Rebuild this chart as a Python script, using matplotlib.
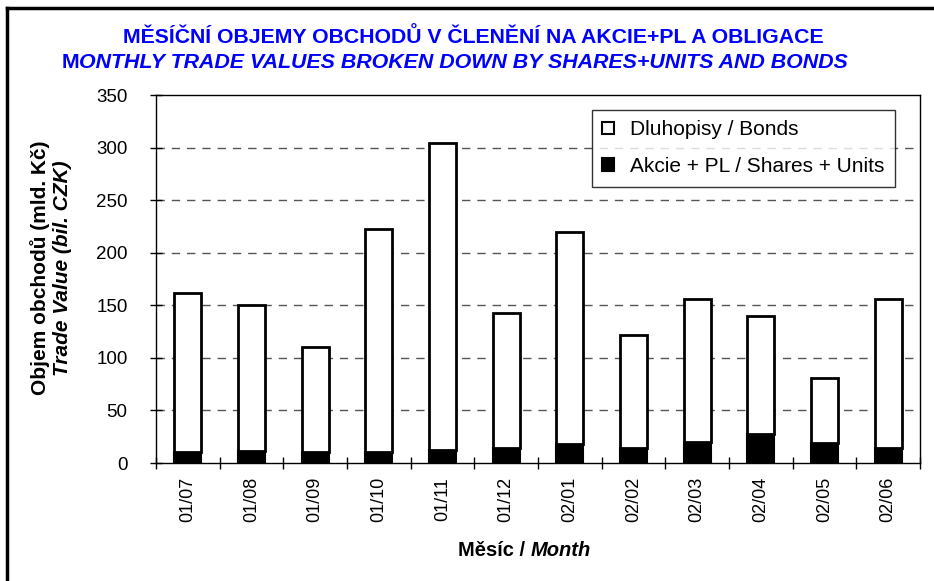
import matplotlib
matplotlib.use("Agg")
import matplotlib.pyplot as plt
import numpy as np
from matplotlib.patches import Patch
from matplotlib.lines import Line2D

months = ["01/07", "01/08", "01/09", "01/10", "01/11", "01/12",
          "02/01", "02/02", "02/03", "02/04", "02/05", "02/06"]
totals = [162, 150, 110, 223, 304, 143, 220, 122, 156, 140, 81, 156]
shares = [10.6, 11.2, 10.2, 10.6, 12.2, 13.8, 17.6, 13.8, 19.5, 27.9, 19.2, 13.8]
bonds = [t - s for t, s in zip(totals, shares)]
yticks = [0, 50, 100, 150, 200, 250, 300, 350]

plt.rcParams['font.family'] = ['Liberation Sans', 'DejaVu Sans']

fig = plt.figure(figsize=(9.34, 5.81), dpi=100)
ax = fig.add_axes([156/934, 1-463/581, (920-156)/934, (463-95)/581])

x = np.arange(len(months))
w = 0.42
ax.bar(x, shares, width=w, color='black', edgecolor='black', linewidth=1.5, zorder=3)
ax.bar(x, bonds, width=w, bottom=shares, color='white', edgecolor='black', linewidth=2, zorder=3)

ax.set_xlim(-0.5, len(months) - 0.5)
ax.set_ylim(0, 350)
ax.set_yticks(yticks)
ax.set_yticklabels([str(v) for v in yticks], fontsize=13.5)
ax.set_xticks(x)
ax.set_xticklabels(months, rotation=90, fontsize=13)
ax.set_xticks(np.arange(-0.5, len(months)), minor=True)
ax.tick_params(axis='x', which='major', length=0, pad=10)
ax.tick_params(axis='x', which='minor', length=9, direction='inout', width=1)
ax.tick_params(axis='y', which='major', length=9, direction='inout', width=1, pad=16)

for v in yticks[1:-1]:
    ax.axhline(v, color='#555555', linestyle=(0, (6, 5)), linewidth=1, zorder=1)

for s in ax.spines.values():
    s.set_linewidth(1)
    s.set_color('black')

# y label (two lines, second italic)
fig.text(40/934, 1-268/581, "Objem obchodů (mld. Kč)", rotation=90, fontsize=15,
         fontweight='bold', ha='center', va='center')
fig.text(62/934, 1-268/581, "Trade Value (bil. CZK)", rotation=90, fontsize=15,
         fontweight='bold', fontstyle='italic', ha='center', va='center')

# x label
fig.text(531/934, 1-551/581, "Měsíc / ", fontsize=14.5, fontweight='bold',
         ha='right', va='center')
fig.text(531/934, 1-551/581, "Month", fontsize=14.5, fontweight='bold',
         fontstyle='italic', ha='left', va='center')

# titles
blue = '#0000FF'
fig.text(473/934, 1-37/581, "MĚSÍČNÍ OBJEMY OBCHODŮ V ČLENĚNÍ NA AKCIE+PL A OBLIGACE",
         fontsize=15.3, fontweight='bold', color=blue, ha='center', va='center')
fig.text(79/934, 1-62/581, "M", fontsize=15.3, fontweight='bold', color=blue,
         ha='right', va='center')
fig.text(79/934, 1-62/581, "ONTHLY TRADE VALUES BROKEN DOWN BY SHARES+UNITS AND BONDS",
         fontsize=15.4, fontweight='bold', fontstyle='italic', color=blue,
         ha='left', va='center')

# legend
handles = [Patch(facecolor='white', edgecolor='black', linewidth=1.5),
           Patch(facecolor='black', edgecolor='black', linewidth=1.5)]
leg = ax.legend(handles, ["Dluhopisy / Bonds", "Akcie + PL / Shares + Units"],
                loc='upper right', bbox_to_anchor=((895-156)/764, (463-110)/368),
                fontsize=15, frameon=True, fancybox=False, edgecolor='black',
                handlelength=0.55, handleheight=0.55, handletextpad=0.8,
                labelspacing=0.85, borderpad=0.5, borderaxespad=0)
leg.get_frame().set_linewidth(1)
leg.set_zorder(5)

# outer frame (top and left thick edges)
fig.add_artist(Line2D([7/934, 1], [1-8/581, 1-8/581], color='black', linewidth=2.5,
                      transform=fig.transFigure))
fig.add_artist(Line2D([7/934, 7/934], [0, 1-8/581], color='black', linewidth=2.5,
                      transform=fig.transFigure))

fig.savefig("out.png", dpi=100)
